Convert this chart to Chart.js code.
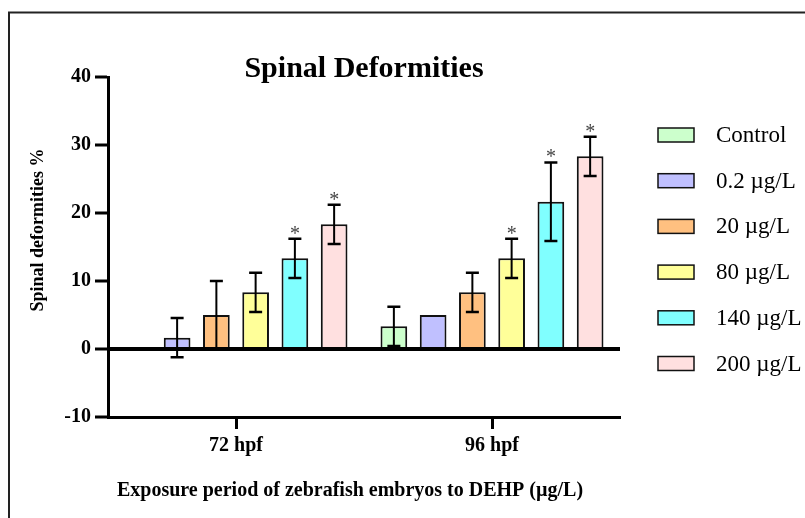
<!DOCTYPE html>
<html>
<head>
<meta charset="utf-8">
<script src="https://cdn.jsdelivr.net/npm/chart.js@4.4.1/dist/chart.umd.min.js"></script>
<style>
  html, body { margin: 0; padding: 0; background: #fff; }
  #wrap { width: 805px; height: 518px; }
</style>
</head>
<body>
<div id="wrap"><canvas id="myChart" width="805" height="518"></canvas></div>
<script>
// exposure periods on the x axis
var periods = ['72 hpf', '96 hpf'];
// DEHP groups, one dataset each
var groups = ['Control', '0.2 µg/L', '20 µg/L', '80 µg/L', '140 µg/L', '200 µg/L'];
var groupColors = ['#ccffcc', '#c0c0ff', '#ffc080', '#ffff99', '#80ffff', '#ffe0e0'];
// mean % and SD for each group
var mean72 = [0, 1.67, 5, 8.33, 13.33, 18.33];
var sd72 = [0, 2.89, 5, 2.89, 2.89, 2.89];
var mean96 = [3.33, 5, 8.33, 13.33, 21.67, 28.33];
var sd96 = [2.89, 0, 2.89, 2.89, 5.77, 2.89];
// significant vs control (*)
var star72 = [false, false, false, false, true, true];
var star96 = [false, false, false, true, true, true];
var yTicks = [-10, 0, 10, 20, 30, 40];

var serif = "'Liberation Serif', 'Times New Roman', serif";

var datasets = groups.map(function (g, i) {
    return {
        label: g,
        data: [mean72[i], mean96[i]],
        sd: [sd72[i], sd96[i]],
        star: [star72[i], star96[i]],
        backgroundColor: groupColors[i],
        borderColor: '#111',
        borderWidth: 2,
        categoryPercentage: 0.92,
        barPercentage: 0.68
    };
});

// error bars + asterisks on top of the bars
var errorBars = {
    id: 'errorBars',
    afterDatasetsDraw: function (chart) {
        var ctx = chart.ctx;
        var y = chart.scales.y;
        ctx.save();
        ctx.strokeStyle = '#000';
        ctx.lineWidth = 2;
        chart.data.datasets.forEach(function (ds, i) {
            var meta = chart.getDatasetMeta(i);
            meta.data.forEach(function (bar, j) {
                var sd = ds.sd[j];
                if (!sd) return;
                var yTop = y.getPixelForValue(ds.data[j] + sd);
                var yBot = y.getPixelForValue(ds.data[j] - sd);
                ctx.beginPath();
                ctx.moveTo(bar.x, yTop);
                ctx.lineTo(bar.x, yBot);
                ctx.stroke();
                ctx.lineWidth = 2.5;
                ctx.beginPath();
                ctx.moveTo(bar.x - 6.5, yTop);
                ctx.lineTo(bar.x + 6.5, yTop);
                ctx.moveTo(bar.x - 6.5, yBot);
                ctx.lineTo(bar.x + 6.5, yBot);
                ctx.stroke();
                ctx.lineWidth = 2;
                if (ds.star[j]) {
                    ctx.fillStyle = '#444';
                    ctx.font = '20px ' + serif;
                    ctx.textAlign = 'center';
                    ctx.textBaseline = 'alphabetic';
                    ctx.fillText('*', bar.x, yTop + 1);
                }
            });
        });
        ctx.restore();
    }
};

// frame, titles and legend
var decorations = {
    id: 'decorations',
    afterDraw: function (chart) {
        var ctx = chart.ctx;
        var ca = chart.chartArea;
        ctx.save();
        ctx.strokeStyle = '#222';
        ctx.lineWidth = 2;
        ctx.strokeRect(9, 12.5, 820, 520);

        ctx.fillStyle = '#000';
        ctx.textAlign = 'center';
        ctx.textBaseline = 'alphabetic';
        ctx.font = 'bold 30px ' + serif;
        ctx.fillText('Spinal Deformities', (ca.left + ca.right) / 2, 77);

        ctx.textBaseline = 'middle';
        ctx.font = 'bold 20px ' + serif;
        ctx.fillText('Exposure period of zebrafish embryos to DEHP (µg/L)', 350, 491);

        ctx.save();
        ctx.translate(38, 230);
        ctx.rotate(-Math.PI / 2);
        ctx.font = 'bold 18px ' + serif;
        ctx.fillText('Spinal deformities %', 0, 0);
        ctx.restore();

        ctx.textAlign = 'left';
        ctx.font = '23px ' + serif;
        groups.forEach(function (g, i) {
            var rowY = ca.top + 58 + i * 45.7;
            ctx.fillStyle = groupColors[i];
            ctx.fillRect(ca.right + 38, rowY - 7, 36, 14);
            ctx.strokeStyle = '#111';
            ctx.lineWidth = 1.5;
            ctx.strokeRect(ca.right + 38, rowY - 7, 36, 14);
            ctx.fillStyle = '#000';
            ctx.fillText(g, ca.right + 96, rowY + 1);
        });
        ctx.restore();
    }
};

var ctx = document.getElementById('myChart').getContext('2d');
var myChart = new Chart(ctx, {
    type: 'bar',
    data: {
        labels: periods,
        datasets: datasets
    },
    options: {
        responsive: false,
        animation: false,
        layout: { padding: { top: 77, right: 185, bottom: 0, left: 0 } },
        plugins: {
            legend: { display: false },
            title: { display: false },
            tooltip: { enabled: false }
        },
        scales: {
            x: {
                offset: true,
                afterFit: function (scale) { scale.height = 101; },
                border: { color: '#000', width: 3 },
                grid: {
                    offset: false,
                    drawOnChartArea: false,
                    tickLength: 12,
                    tickWidth: 3,
                    tickColor: '#000'
                },
                ticks: {
                    color: '#000',
                    padding: 5,
                    font: { family: serif, size: 20, weight: 'bold' }
                }
            },
            y: {
                min: yTicks[0],
                max: yTicks[yTicks.length - 1],
                afterFit: function (scale) { scale.width = 108; },
                border: { color: '#000', width: 3 },
                grid: {
                    drawOnChartArea: true,
                    color: function (c) { return c.tick && c.tick.value === 0 ? '#000' : 'rgba(0,0,0,0)'; },
                    lineWidth: function (c) { return c.tick && c.tick.value === 0 ? 4 : 0; },
                    tickLength: 13,
                    tickWidth: 3,
                    tickColor: '#000'
                },
                ticks: {
                    stepSize: yTicks[1] - yTicks[0],
                    color: '#000',
                    padding: 4,
                    font: { family: serif, size: 20, weight: 'bold' }
                }
            }
        }
    },
    plugins: [errorBars, decorations]
});
</script>
</body>
</html>
